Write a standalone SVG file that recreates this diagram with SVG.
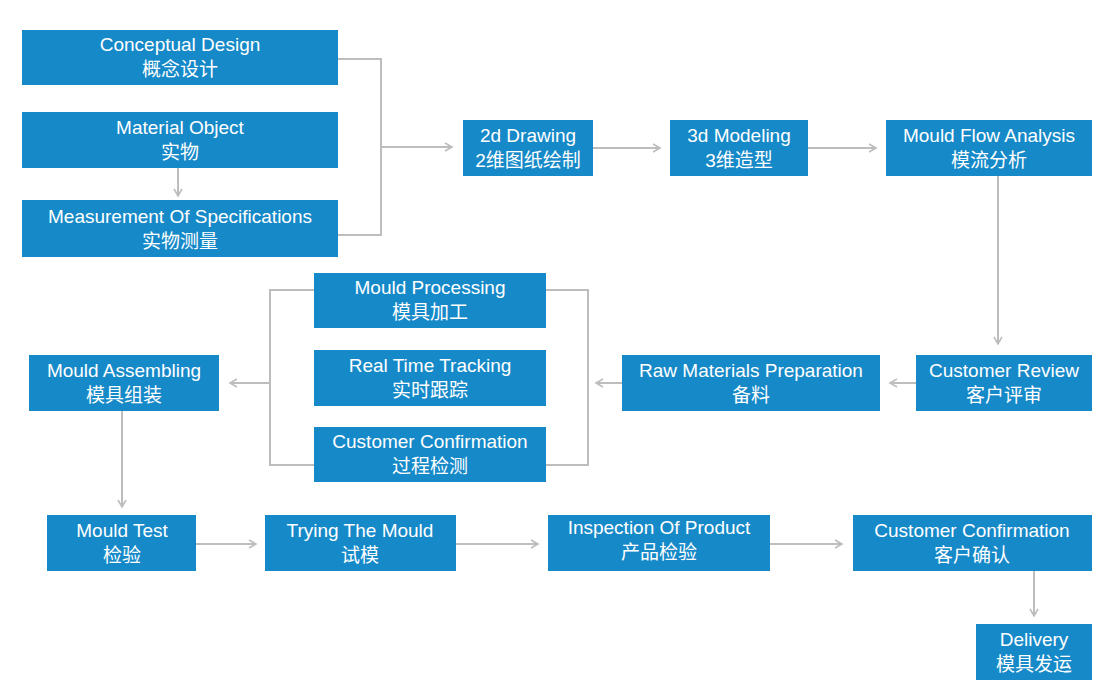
<svg xmlns="http://www.w3.org/2000/svg" width="1113" height="682" viewBox="0 0 1113 682">
<style>
.b{fill:#1689c8}
.t{fill:#fff;font-family:"Liberation Sans","Noto Sans CJK SC",sans-serif;font-size:19px;text-anchor:middle}
.c{fill:none;stroke:#bdbdbd;stroke-width:2}
</style>
<defs><marker id="a" markerWidth="10" markerHeight="10" refX="8" refY="5" orient="auto" markerUnits="userSpaceOnUse"><path d="M1,1 L8,5 L1,9" fill="none" stroke="#bdbdbd" stroke-width="1.6"/></marker></defs>
<rect width="1113" height="682" fill="#fff"/>
<g id="connectors" class="c">
<path d="M338,59 H381 V235 H338"/>
<path d="M381,147 H452" marker-end="url(#a)"/>
<path d="M178,168 V196" marker-end="url(#a)"/>
<path d="M593,148 H660" marker-end="url(#a)"/>
<path d="M808,148 H876" marker-end="url(#a)"/>
<path d="M998,176 V344" marker-end="url(#a)"/>
<path d="M916,383 H890" marker-end="url(#a)"/>
<path d="M622,383 H596" marker-end="url(#a)"/>
<path d="M546,290 H588 V465 H546"/>
<path d="M314,290 H270 V465 H314"/>
<path d="M270,383 H230" marker-end="url(#a)"/>
<path d="M122,411 V507" marker-end="url(#a)"/>
<path d="M196,544 H256" marker-end="url(#a)"/>
<path d="M456,544 H538" marker-end="url(#a)"/>
<path d="M770,544 H842" marker-end="url(#a)"/>
<path d="M1034,571 V616" marker-end="url(#a)"/>
</g>
<g id="n1"><rect class="b" x="22" y="30" width="316" height="55"/><text class="t" x="180" y="51">Conceptual Design</text><text class="t" x="180" y="76">概念设计</text></g>
<g id="n2"><rect class="b" x="22" y="112" width="316" height="56"/><text class="t" x="180" y="134">Material Object</text><text class="t" x="180" y="159">实物</text></g>
<g id="n3"><rect class="b" x="22" y="200" width="316" height="57"/><text class="t" x="180" y="223">Measurement Of Specifications</text><text class="t" x="180" y="248">实物测量</text></g>
<g id="n4"><rect class="b" x="463" y="120" width="130" height="56"/><text class="t" x="528" y="142">2d Drawing</text><text class="t" x="528" y="167">2维图纸绘制</text></g>
<g id="n5"><rect class="b" x="670" y="120" width="138" height="56"/><text class="t" x="739" y="142">3d Modeling</text><text class="t" x="739" y="167">3维造型</text></g>
<g id="n6"><rect class="b" x="886" y="120" width="206" height="56"/><text class="t" x="989" y="142">Mould Flow Analysis</text><text class="t" x="989" y="167">模流分析</text></g>
<g id="n7"><rect class="b" x="916" y="355" width="176" height="56"/><text class="t" x="1004" y="377">Customer Review</text><text class="t" x="1004" y="402">客户评审</text></g>
<g id="n8"><rect class="b" x="622" y="355" width="258" height="56"/><text class="t" x="751" y="377">Raw Materials Preparation</text><text class="t" x="751" y="402">备料</text></g>
<g id="n9"><rect class="b" x="314" y="273" width="232" height="55"/><text class="t" x="430" y="294">Mould Processing</text><text class="t" x="430" y="319">模具加工</text></g>
<g id="n10"><rect class="b" x="314" y="350" width="232" height="56"/><text class="t" x="430" y="372">Real Time Tracking</text><text class="t" x="430" y="397">实时跟踪</text></g>
<g id="n11"><rect class="b" x="314" y="427" width="232" height="55"/><text class="t" x="430" y="448">Customer Confirmation</text><text class="t" x="430" y="473">过程检测</text></g>
<g id="n12"><rect class="b" x="29" y="355" width="190" height="56"/><text class="t" x="124" y="377">Mould Assembling</text><text class="t" x="124" y="402">模具组装</text></g>
<g id="n13"><rect class="b" x="47" y="515" width="149" height="56"/><text class="t" x="122" y="537">Mould Test</text><text class="t" x="122" y="562">检验</text></g>
<g id="n14"><rect class="b" x="265" y="515" width="191" height="56"/><text class="t" x="360" y="537">Trying The Mould</text><text class="t" x="360" y="562">试模</text></g>
<g id="n15"><rect class="b" x="548" y="515" width="222" height="56"/><text class="t" x="659" y="534">Inspection Of Product</text><text class="t" x="659" y="559">产品检验</text></g>
<g id="n16"><rect class="b" x="853" y="515" width="239" height="56"/><text class="t" x="972" y="537">Customer Confirmation</text><text class="t" x="972" y="562">客户确认</text></g>
<g id="n17"><rect class="b" x="976" y="624" width="116" height="56"/><text class="t" x="1034" y="646">Delivery</text><text class="t" x="1034" y="671">模具发运</text></g>
</svg>
